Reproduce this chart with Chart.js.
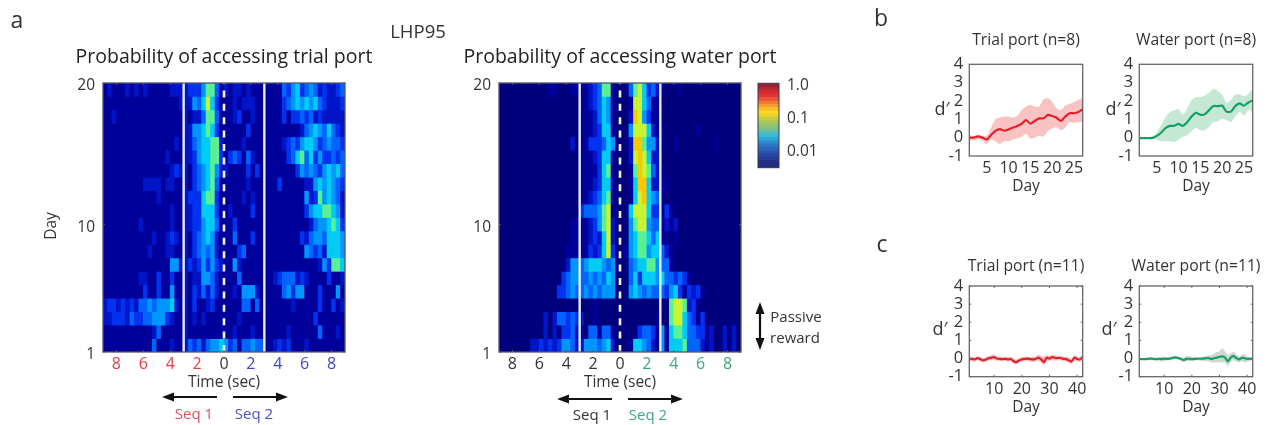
<!DOCTYPE html>
<html>
<head>
<meta charset="utf-8">
<title>LHP95</title>
<script src="https://cdn.jsdelivr.net/npm/chart.js@4"></script>
<style>
html, body { margin: 0; padding: 0; background: #fff; }
#fig { position: relative; width: 1270px; height: 425px; overflow: hidden; filter: blur(0.55px); font-family: "Open Sans", sans-serif; color: #333; }
#fig canvas { position: absolute; }
.t { position: absolute; white-space: nowrap; line-height: 1; transform: translate(-50%, -50%); }
#arrows { position: absolute; left: 0; top: 0; }
</style>
</head>
<body>
<div id="fig">
  <canvas id="heatTrial" style="left:40px;top:40px;width:368px;height:360px"></canvas>
  <canvas id="heatWater" style="left:436px;top:40px;width:368px;height:360px"></canvas>
  <canvas id="colorbar" style="left:750px;top:66px;width:70px;height:119px"></canvas>
  <canvas id="bTrial" style="left:930px;top:20px;width:192px;height:180px"></canvas>
  <canvas id="bWater" style="left:1100px;top:20px;width:192px;height:180px"></canvas>
  <canvas id="cTrial" style="left:930px;top:235px;width:192px;height:185px"></canvas>
  <canvas id="cWater" style="left:1100px;top:235px;width:192px;height:185px"></canvas>

  <svg id="arrows" width="1270" height="425">
    <g stroke="#111" stroke-width="2.2" fill="none">
      <path d="M217 397H170M233 397H280M612 399H565M628 399H675M760 310V342"/>
    </g>
    <g fill="#111">
      <path d="M162 397L174 392.5V401.5Z"/>
      <path d="M288 397L276 392.5V401.5Z"/>
      <path d="M557 399L569 394.5V403.5Z"/>
      <path d="M683 399L671 394.5V403.5Z"/>
      <path d="M760 302L755.5 314H764.5Z"/>
      <path d="M760 350L755.5 338H764.5Z"/>
    </g>
  </svg>

  <span class="t" style="left:17px;top:19px;font-size:23px">a</span>
  <span class="t" style="left:881px;top:17px;font-size:23px">b</span>
  <span class="t" style="left:882px;top:243px;font-size:23px">c</span>
  <span class="t" style="left:418px;top:31px;font-size:18.5px">LHP95</span>
  <span class="t" style="left:51px;top:226px;font-size:15.5px;transform:translate(-50%,-50%) rotate(-90deg)">Day</span>
  <span class="t" style="left:194px;top:413px;font-size:15px;color:#e0505a">Seq 1</span>
  <span class="t" style="left:254px;top:413px;font-size:15px;color:#4a4fc4">Seq 2</span>
  <span class="t" style="left:592px;top:414px;font-size:15px">Seq 1</span>
  <span class="t" style="left:648px;top:414px;font-size:15px;color:#3aaa7c">Seq 2</span>
  <span class="t" style="left:796px;top:316px;font-size:15px">Passive</span>
  <span class="t" style="left:795px;top:337px;font-size:15px">reward</span>
  <span class="t" style="left:942px;top:108px;font-size:18px">d′</span>
  <span class="t" style="left:1113px;top:108px;font-size:18px">d′</span>
  <span class="t" style="left:940px;top:328px;font-size:18px">d′</span>
  <span class="t" style="left:1109px;top:328px;font-size:18px">d′</span>
</div>

<script>
// heatmap cells, log-probability level 0-9, day 20 at the top, one string per day
// groups: -9..-3 s | -3..0 s | 0..3 s | 3..9 s
const trialPortLevels = [
  "121112121211111222 233357741 212212111 111143563454232234",
  "111111111111111112 225468631 112122211 111134565656432223",
  "112111111111111111 212247741 112311211 111131334342322222",
  "111111111111111111 225567631 111113111 111111112456546432",
  "111111111111111121 224566772 111121111 111123435665345443",
  "111111111111112111 223566773 134314211 111113467463533434",
  "111111111111111232 213456752 211113131 111111135454356564",
  "111111111222212211 213456741 111112111 111311111225656543",
  "111111111111211111 233367731 111121211 111111111523756542",
  "111111111111111211 223366631 121111311 111111111356677652",
  "111111112111111211 223356641 113111111 111111111124556763",
  "111111111112112321 213456521 114111311 111111113245546665",
  "111111111121112211 213454521 111341111 111111111543426665",
  "111111111111111552 232353532 115211111 111111111111253776",
  "111111112211311311 212255421 111411111 112344423211113112",
  "111111111311311511 213242421 112155521 111145355111311151",
  "233232324454555621 213112311 111144141 111111211111311312",
  "223332433445553211 212121111 111211111 111111111113111111",
  "111111111112411111 211111111 112111211 111112111111411121",
  "111111111114111211 243424556 534144544 112323111211111111"
];
const waterPortLevels = [
  "000000000001100011 112347710 004786342 100010000000000000",
  "000000000000000000 112346510 001886411 000000000000000000",
  "000000000000000000 111246510 002985311 000000000000000000",
  "000000000000000000 111236610 005888621 100000001000000000",
  "000000000000000020 113334650 002997552 100100000000100000",
  "000000000000000000 111236610 002898622 000000000000000000",
  "000000000000000000 111136710 001798742 100000000000000000",
  "000000000000000000 111236610 001699622 110000000000000000",
  "000000000000000000 112346710 001689654 100000000000000000",
  "000000000000000000 344457810 006888633 131000000000000000",
  "000000000000000011 112357820 005788544 121200000000000000",
  "000000000000000011 112326820 005677646 110100000000000000",
  "000000000000000111 113236830 015677566 421000000000000000",
  "000000000000000255 456665450 004566775 441000000000000000",
  "000000000000003455 445454650 004636665 644343100000000000",
  "000000000000033454 454545550 005654544 435631323100000000",
  "000000000000000000 000100000 000000000 007887231000000000",
  "000000000020244343 200100000 000000001 007886431300000000",
  "000000000020203342 104414410 000034431 516776443312002020",
  "000000022323235542 255545620 001665421 516667444212002020"
];
const heatColors = ["#00007d", "#00009b", "#0014c8", "#0032f0", "#0064ff", "#0096ff", "#00cdf5", "#5af096", "#c8f532", "#fac800"];
const timeTicks = [-8, -6, -4, -2, 0, 2, 4, 6, 8];
const dayTicks = [1, 10, 20];
const seqLines = [-3, 3];

// colour bar, log10 of probability
const colorbarEdges = [-2.52, -2.4, -2.3, -2.2, -2.1, -2.0, -1.9, -1.8, -1.7, -1.6, -1.5, -1.4, -1.3, -1.2, -1.1, -1.0, -0.9, -0.8, -0.7, -0.6, -0.5, -0.4, -0.3, -0.2, -0.1, 0.03];
const colorbarColors = ["#232d82", "#26308a", "#273a96", "#2846a4", "#2a52b0", "#2a64bc", "#2a7ac6", "#2a90d0", "#2fa8d8", "#3ab8d8", "#5cbcb0", "#7cbf88", "#93c26c", "#a8c658", "#c4cc44", "#e4d232", "#fcd81e", "#fabc28", "#f59a2c", "#ee7630", "#e85032", "#e23434", "#d82c30", "#b8282e", "#96242e"];
const colorbarTicks = [-2, -1, 0];

// d' panels
const days27 = [1, 2, 3, 4, 5, 6, 7, 8, 9, 10, 11, 12, 13, 14, 15, 16, 17, 18, 19, 20, 21, 22, 23, 24, 25, 26, 27];
const days42 = [1, 2, 3, 4, 5, 6, 7, 8, 9, 10, 11, 12, 13, 14, 15, 16, 17, 18, 19, 20, 21, 22, 23, 24, 25, 26, 27, 28, 29, 30, 31, 32, 33, 34, 35, 36, 37, 38, 39, 40, 41, 42];
const dTicks = [-1, 0, 1, 2, 3, 4];
const bDayTicks = [5, 10, 15, 20, 25];
const cDayTicks = [10, 20, 30, 40];

const bTrialMean = [0, 0, 0.07, 0, -0.1, 0.15, 0.37, 0.47, 0.38, 0.45, 0.55, 0.64, 0.76, 0.96, 0.76, 0.91, 1.05, 1.05, 1.24, 1.18, 1.09, 0.91, 1.15, 1.33, 1.33, 1.4, 1.55];
const bTrialUpper = [0.15, 0.1, 0.15, 0.1, 0.1, 0.55, 1.0, 1.1, 1.15, 1.15, 1.1, 1.2, 1.5, 1.7, 1.8, 1.7, 1.7, 2.1, 2.15, 1.95, 1.6, 1.5, 1.75, 1.85, 1.95, 2.05, 2.2];
const bTrialLower = [-0.15, -0.15, -0.1, -0.15, -0.35, -0.1, -0.2, -0.35, -0.2, -0.2, -0.1, -0.05, 0.05, 0.2, -0.05, 0, 0.1, 0.05, 0.35, 0.5, 0.55, 0.4, 0.55, 0.85, 0.8, 0.85, 0.85];

const bWaterMean = [-0.02, -0.02, -0.02, -0.01, 0.1, 0.27, 0.52, 0.64, 0.65, 0.75, 0.64, 0.85, 1.15, 1.35, 1.25, 1.27, 1.5, 1.72, 1.72, 1.74, 1.42, 1.42, 1.72, 1.87, 1.74, 1.92, 2.03];
const bWaterUpper = [0, 0, 0, 0, 0.3, 0.7, 1.1, 1.4, 1.5, 1.55, 1.25, 1.6, 2.05, 2.2, 2.2, 2.3, 2.45, 2.65, 2.55, 2.35, 1.9, 2.05, 2.35, 2.35, 2.25, 2.4, 2.7];
const bWaterLower = [-0.05, -0.05, -0.05, -0.05, -0.1, -0.2, -0.2, -0.2, -0.25, -0.1, 0.05, 0.15, 0.35, 0.55, 0.4, 0.4, 0.6, 0.85, 0.9, 1.05, 0.95, 0.85, 1.15, 1.4, 1.2, 1.5, 1.4];

const cTrialMean = [-0.03, -0.02, -0.05, 0.02, -0.03, -0.1, -0.05, 0.02, 0.05, 0.08, 0, -0.02, -0.03, -0.02, -0.05, -0.02, -0.15, -0.2, -0.1, -0.05, -0.02, 0, -0.03, -0.05, -0.02, 0.05, -0.05, -0.2, 0.05, 0, 0.08, 0.03, 0.03, 0.03, -0.02, -0.03, -0.1, -0.15, 0.05, -0.02, -0.05, 0.08];
const cTrialUpper = [0.1, 0.1, 0.08, 0.12, 0.1, 0.02, 0.08, 0.14, 0.2, 0.24, 0.12, 0.1, 0.1, 0.1, 0.08, 0.1, 0, -0.05, 0.03, 0.08, 0.1, 0.12, 0.1, 0.1, 0.12, 0.22, 0.15, 0.1, 0.2, 0.14, 0.22, 0.18, 0.16, 0.15, 0.12, 0.1, 0.05, 0, 0.2, 0.12, 0.08, 0.22];
const cTrialLower = [-0.16, -0.14, -0.18, -0.1, -0.16, -0.22, -0.18, -0.1, -0.1, -0.08, -0.12, -0.14, -0.16, -0.14, -0.18, -0.14, -0.28, -0.34, -0.22, -0.18, -0.14, -0.12, -0.16, -0.2, -0.16, -0.12, -0.25, -0.4, -0.12, -0.14, -0.06, -0.12, -0.1, -0.1, -0.16, -0.16, -0.24, -0.3, -0.1, -0.16, -0.18, -0.06];

const cWaterMean = [-0.02, -0.03, -0.03, -0.02, 0, -0.02, -0.03, -0.02, -0.03, -0.01, -0.02, 0, 0.04, 0.06, 0.03, -0.02, -0.08, -0.02, -0.01, -0.03, -0.02, -0.01, -0.01, 0, 0.01, 0.03, -0.02, 0.02, 0.05, 0.1, 0.12, 0.05, -0.15, 0.04, 0.15, 0.03, -0.05, 0.03, 0.02, -0.02, -0.01, -0.03];
const cWaterUpper = [0.02, 0.02, 0.03, 0.05, 0.08, 0.06, 0.05, 0.07, 0.1, 0.1, 0.08, 0.1, 0.12, 0.16, 0.12, 0.1, 0.06, 0.14, 0.15, 0.08, 0.08, 0.08, 0.1, 0.12, 0.14, 0.2, 0.18, 0.28, 0.35, 0.42, 0.55, 0.4, 0.2, 0.3, 0.38, 0.25, 0.12, 0.2, 0.26, 0.12, 0.1, 0.05];
const cWaterLower = [-0.06, -0.08, -0.09, -0.1, -0.1, -0.1, -0.12, -0.12, -0.15, -0.12, -0.12, -0.1, -0.06, -0.04, -0.06, -0.12, -0.2, -0.14, -0.16, -0.14, -0.12, -0.1, -0.12, -0.12, -0.14, -0.14, -0.22, -0.22, -0.2, -0.2, -0.2, -0.22, -0.4, -0.2, -0.1, -0.16, -0.2, -0.14, -0.2, -0.18, -0.12, -0.1];

const FONT = '"Open Sans", sans-serif';
const INK = '#333';

Chart.defaults.animation = false;
Chart.defaults.responsive = false;
Chart.defaults.font.family = FONT;

// axis frame, inward ticks and the plot background
const framePlugin = {
  id: 'frame',
  beforeDatasetsDraw(chart, args, opts) {
    const a = chart.chartArea;
    if (opts.fill) {
      chart.ctx.fillStyle = opts.fill;
      chart.ctx.fillRect(a.left, a.top, a.width, a.height);
    }
    chart.$softened = false;
  },
  // the scan is soft: blur the cells once, just before the marker lines go on top
  beforeDatasetDraw(chart, args, opts) {
    if (!opts.soften || chart.$softened) return;
    if (chart.data.datasets[args.index].type !== 'line') return;
    const { ctx, canvas, chartArea: a } = chart;
    ctx.save();
    ctx.filter = 'blur(' + opts.soften + 'px)';
    ctx.beginPath();
    ctx.rect(a.left, a.top, a.width, a.height);
    ctx.clip();
    ctx.drawImage(canvas, a.left, a.top, a.width, a.height, a.left, a.top, a.width, a.height);
    ctx.restore();
    chart.$softened = true;
  },
  afterDraw(chart, args, opts) {
    const { ctx, chartArea: a, scales } = chart;
    ctx.save();
    ctx.strokeStyle = opts.color || '#555';
    ctx.lineWidth = opts.width || 1.3;
    ctx.strokeRect(a.left, a.top, a.width, a.height);
    const len = opts.tick || 0;
    ctx.lineWidth = 1;
    ctx.beginPath();
    if (len) {
      (scales.x.ticks || []).forEach(t => {
        const x = scales.x.getPixelForValue(t.value);
        ctx.moveTo(x, a.top); ctx.lineTo(x, a.top + len);
        ctx.moveTo(x, a.bottom); ctx.lineTo(x, a.bottom - len);
      });
      (scales.y.ticks || []).forEach(t => {
        const y = scales.y.getPixelForValue(t.value);
        ctx.moveTo(a.left, y); ctx.lineTo(a.left + len, y);
        ctx.moveTo(a.right, y); ctx.lineTo(a.right - len, y);
      });
      ctx.stroke();
    }
    ctx.restore();
  }
};
Chart.register(framePlugin);

const noGrid = { display: false, drawTicks: false };

function setSize(id) {
  const c = document.getElementById(id);
  c.width = parseInt(c.style.width);
  c.height = parseInt(c.style.height);
  return c;
}

function fixedTicks(values) {
  return scale => { scale.ticks = values.map(v => ({ value: v })); };
}

// empty right axis, same width as the left one, so the title centres over the plot
function spacerAxis(width) {
  return {
    type: 'linear', position: 'right', min: 0, max: 1,
    grid: noGrid, border: { display: false },
    ticks: { display: false },
    afterFit: s => { s.width = width; }
  };
}

// one dataset of floating bars per day, all on the same time bins
function heatDatasets(rows) {
  return rows.map((row, k) => {
    const cells = row.replace(/ /g, '').split('').map(Number);
    const top = 20 - k * 0.95;
    return {
      type: 'bar',
      order: 2,
      grouped: false,
      barPercentage: 1,
      categoryPercentage: 1,
      borderWidth: 0,
      data: cells.map((lvl, c) => ({ x: -9 + (c + 0.5) / 3, y: [top - 0.95, top] })),
      backgroundColor: cells.map(lvl => heatColors[lvl])
    };
  });
}

function markerLines() {
  const solid = seqLines.map(t => ({
    type: 'line', order: 0, borderColor: '#eceef2', borderWidth: 2.4, pointRadius: 0,
    data: [{ x: t, y: 1 }, { x: t, y: 20 }]
  }));
  solid.push({
    type: 'line', order: 0, borderColor: '#f4f4f4', borderWidth: 2.6, pointRadius: 0, borderDash: [7, 6.4],
    data: [{ x: 0, y: 1 }, { x: 0, y: 20 }]
  });
  return solid;
}

function heatChart(id, rows, title, leftColor, rightColor, bg) {
  new Chart(setSize(id), {
    type: 'bar',
    data: { datasets: heatDatasets(rows).concat(markerLines()) },
    options: {
      plugins: {
        legend: { display: false },
        tooltip: { enabled: false },
        title: {
          display: true, text: title, color: '#222',
          font: { size: 19.5, weight: 'normal', lineHeight: 1.2 },
          padding: { top: 6, bottom: 13.6 }
        },
        frame: { color: '#55556e', tick: 2, fill: bg, soften: 0.7 }
      },
      scales: {
        x: {
          type: 'linear', min: -9, max: 9, offset: false,
          grid: noGrid, border: { display: false },
          afterBuildTicks: fixedTicks(timeTicks),
          afterFit: s => { s.height = 48; },
          ticks: {
            autoSkip: false, maxRotation: 0, padding: 3,
            font: { size: 16 },
            color: ctx => ctx.tick.value < 0 ? leftColor : ctx.tick.value > 0 ? rightColor : INK,
            callback: v => Math.abs(v)
          },
          title: { display: true, text: 'Time (sec)', color: INK, font: { size: 15.5 }, padding: { top: 0, bottom: 8 } }
        },
        y: {
          type: 'linear', min: 1, max: 20,
          grid: noGrid, border: { display: false },
          afterBuildTicks: fixedTicks(dayTicks),
          afterFit: s => { s.width = 63; },
          ticks: { autoSkip: false, padding: 8, labelOffset: 2.5, color: INK, font: { size: 15.5 } }
        },
        spacer: spacerAxis(63)
      }
    }
  });
}

function dprimeChart(id, title, days, mean, upper, lower, lineColor, bandColor, xTicks, tickLen, titlePad, xHeight, xTitlePad) {
  new Chart(setSize(id), {
    type: 'line',
    data: {
      labels: days,
      datasets: [
        { data: upper, order: 2, borderWidth: 0, pointRadius: 0, backgroundColor: bandColor, fill: '+1', tension: 0.25 },
        { data: lower, order: 2, borderWidth: 0, pointRadius: 0, fill: false, tension: 0.25 },
        { data: mean, order: 0, borderColor: lineColor, borderWidth: 2.2, pointRadius: 0, fill: false, tension: 0.25 }
      ]
    },
    options: {
      plugins: {
        legend: { display: false },
        tooltip: { enabled: false },
        title: {
          display: true, text: title, color: INK,
          font: { size: 15.7, weight: 'normal', lineHeight: 1.2 },
          padding: titlePad
        },
        frame: { color: '#666', tick: tickLen }
      },
      scales: {
        x: {
          type: 'linear', min: 1, max: days[days.length - 1],
          grid: noGrid, border: { display: false },
          afterBuildTicks: fixedTicks(xTicks),
          afterFit: s => { s.height = xHeight; },
          ticks: { autoSkip: false, maxRotation: 0, padding: 3, color: INK, font: { size: 16 } },
          title: { display: true, text: 'Day', color: INK, font: { size: 15.5 }, padding: { top: 0, bottom: xTitlePad } }
        },
        y: {
          type: 'linear', min: -1, max: 4,
          grid: noGrid, border: { display: false },
          afterBuildTicks: fixedTicks(dTicks),
          afterFit: s => { s.width = 39.3; },
          ticks: { autoSkip: false, padding: 6, color: INK, font: { size: 16.5 } }
        },
        spacer: spacerAxis(39.3)
      }
    }
  });
}

heatChart('heatTrial', trialPortLevels, 'Probability of accessing trial port', '#e0404c', '#3f45c8', heatColors[1]);
heatChart('heatWater', waterPortLevels, 'Probability of accessing water port', INK, '#3aaa7c', heatColors[0]);

// colour bar: stacked slices on a log10 axis
new Chart(setSize('colorbar'), {
  type: 'bar',
  data: {
    labels: [''],
    datasets: colorbarColors.map((col, i) => ({
      data: [[colorbarEdges[i], colorbarEdges[i + 1]]],
      backgroundColor: col, borderWidth: 0, grouped: false, barPercentage: 1, categoryPercentage: 1
    }))
  },
  options: {
    layout: { padding: { left: 8, top: 16, bottom: 15 } },
    plugins: {
      legend: { display: false },
      tooltip: { enabled: false },
      frame: { color: '#34385a', width: 1 }
    },
    scales: {
      x: { display: false },
      y: {
        position: 'right', min: -2.52, max: 0.03,
        grid: noGrid, border: { display: false },
        afterBuildTicks: fixedTicks(colorbarTicks),
        afterFit: s => { s.width = 41; },
        ticks: {
          autoSkip: false, padding: 8, labelOffset: 1, color: INK, font: { size: 15.5 },
          callback: v => v === 0 ? '1.0' : v === -1 ? '0.1' : '0.01'
        }
      }
    }
  }
});

const bPad = { top: 11, bottom: 14.46 };
const cPad = { top: 22.5, bottom: 9.66 };
const RED = '#e2202c', GREEN = '#14a064';
dprimeChart('bTrial', 'Trial port (n=8)', days27, bTrialMean, bTrialUpper, bTrialLower, RED, '#fac3c3', bDayTicks, 0, bPad, 44, 4);
dprimeChart('bWater', 'Water port (n=8)', days27, bWaterMean, bWaterUpper, bWaterLower, GREEN, '#c4e8d4', bDayTicks, 0, bPad, 44, 4);
dprimeChart('cTrial', 'Trial port (n=11)', days42, cTrialMean, cTrialUpper, cTrialLower, RED, '#f8c4c4', cDayTicks, 2, cPad, 43.3, 3);
dprimeChart('cWater', 'Water port (n=11)', days42, cWaterMean, cWaterUpper, cWaterLower, GREEN, '#cfd8d0', cDayTicks, 2, cPad, 43.3, 3);
</script>
</body>
</html>
